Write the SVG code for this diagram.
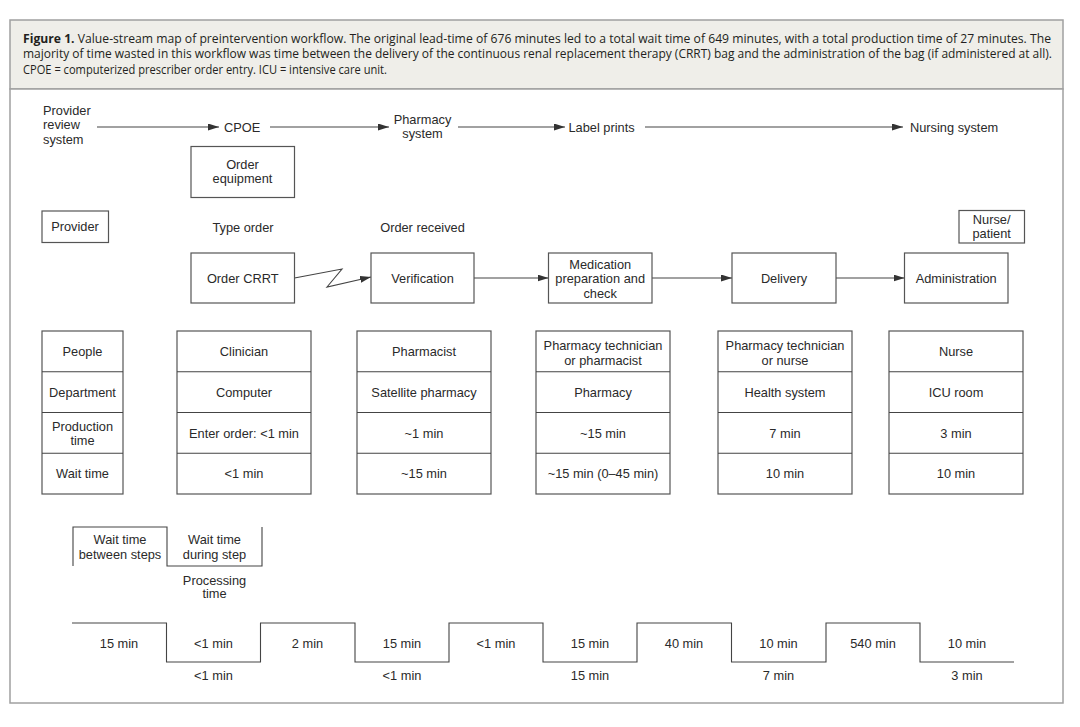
<svg xmlns="http://www.w3.org/2000/svg" width="1080" height="727" viewBox="0 0 1080 727">
<style>
.t{font-family:"Liberation Sans",Arial,sans-serif;font-size:12.8px;fill:#2a2a2a;text-anchor:middle}
.l{text-anchor:start}
.cap{font-family:"Open Sans","Noto Sans",sans-serif;font-size:12px;fill:#231f20}
.box{fill:#fff;stroke:#555;stroke-width:1.2}
.ln{fill:none;stroke:#444;stroke-width:1.1}
.frame{stroke:#a0a0a0;stroke-width:1.5}
</style>
<defs>
<marker id="ah" markerUnits="userSpaceOnUse" markerWidth="11" markerHeight="7" refX="11" refY="3.5" orient="auto">
<path d="M0,0 L11,3.5 L0,7 z" fill="#333"/>
</marker>
</defs>
<rect width="1080" height="727" fill="#fff"/>
<g id="caption">
<rect class="frame" x="10" y="20" width="1053" height="69" fill="#efeee9"/>
<text class="cap" x="23" y="42.5" textLength="1028" lengthAdjust="spacingAndGlyphs"><tspan font-weight="bold">Figure 1.</tspan> Value-stream map of preintervention workflow. The original lead-time of 676 minutes led to a total wait time of 649 minutes, with a total production time of 27 minutes. The</text>
<text class="cap" x="23" y="58" textLength="1029" lengthAdjust="spacingAndGlyphs">majority of time wasted in this workflow was time between the delivery of the continuous renal replacement therapy (CRRT) bag and the administration of the bag (if administered at all).</text>
<text class="cap" x="23" y="73.5" textLength="364" lengthAdjust="spacingAndGlyphs">CPOE = computerized prescriber order entry. ICU = intensive care unit.</text>
</g>
<rect class="frame" x="10" y="89" width="1053" height="614" fill="#fff"/>

<g id="connectors">
<line class="ln" x1="97" y1="127" x2="219" y2="127" marker-end="url(#ah)"/>
<line class="ln" x1="270" y1="127" x2="389" y2="127" marker-end="url(#ah)"/>
<line class="ln" x1="458" y1="127" x2="565" y2="127" marker-end="url(#ah)"/>
<line class="ln" x1="645" y1="127" x2="903" y2="127" marker-end="url(#ah)"/>
<path class="ln" d="M294.5,278 L342,269 L327,287 L371,277" marker-end="url(#ah)"/>
<line class="ln" x1="474" y1="278" x2="548.5" y2="278" marker-end="url(#ah)"/>
<line class="ln" x1="652" y1="278" x2="732" y2="278" marker-end="url(#ah)"/>
<line class="ln" x1="836" y1="278" x2="904.5" y2="278" marker-end="url(#ah)"/>
</g>

<g id="provider-review-system">
<text class="t l" x="43" y="114.5">Provider</text>
<text class="t l" x="43" y="129">review</text>
<text class="t l" x="43" y="143.5">system</text>
</g>
<g id="cpoe"><text class="t l" x="224" y="131.5">CPOE</text></g>
<g id="pharmacy-system">
<text class="t" x="422.5" y="123.5">Pharmacy</text>
<text class="t" x="422.5" y="138">system</text>
</g>
<g id="label-prints"><text class="t l" x="568.5" y="131.5">Label prints</text></g>
<g id="nursing-system"><text class="t l" x="910" y="131.5">Nursing system</text></g>

<g id="order-equipment">
<rect class="box" x="191" y="146.5" width="103.5" height="51"/>
<text class="t" x="242.5" y="168.5">Order</text>
<text class="t" x="242.5" y="182.5">equipment</text>
</g>
<g id="provider">
<rect class="box" x="42" y="211" width="66.5" height="31.5"/>
<text class="t" x="75" y="231">Provider</text>
</g>
<g id="type-order"><text class="t" x="243" y="231.5">Type order</text></g>
<g id="order-received"><text class="t" x="422.5" y="231.5">Order received</text></g>
<g id="nurse-patient">
<rect class="box" x="959" y="210.5" width="65.5" height="32.5"/>
<text class="t" x="991.7" y="224">Nurse/</text>
<text class="t" x="991.7" y="237.5">patient</text>
</g>

<g id="order-crrt">
<rect class="box" x="191" y="253" width="103.5" height="50"/>
<text class="t" x="242.7" y="282.5">Order CRRT</text>
</g>
<g id="verification">
<rect class="box" x="371" y="253" width="103" height="50"/>
<text class="t" x="422.5" y="282.5">Verification</text>
</g>
<g id="medication-preparation">
<rect class="box" x="548.5" y="253" width="103.5" height="50"/>
<text class="t" x="600.2" y="268.5">Medication</text>
<text class="t" x="600.2" y="283">preparation and</text>
<text class="t" x="600.2" y="297.5">check</text>
</g>
<g id="delivery">
<rect class="box" x="732" y="253" width="104" height="50"/>
<text class="t" x="784" y="282.5">Delivery</text>
</g>
<g id="administration">
<rect class="box" x="904.5" y="253" width="103.5" height="50"/>
<text class="t" x="956.2" y="282.5">Administration</text>
</g>

<g id="table-labels">
<rect class="box" x="42" y="331" width="81" height="163"/>
<path class="ln" d="M42,371.75H123M42,412.5H123M42,453.25H123"/>
<text class="t" x="82.5" y="356">People</text>
<text class="t" x="82.5" y="396.5">Department</text>
<text class="t" x="82.5" y="430.5">Production</text>
<text class="t" x="82.5" y="444.5">time</text>
<text class="t" x="82.5" y="478">Wait time</text>
</g>
<g id="table-clinician">
<rect class="box" x="177" y="331" width="134" height="163"/>
<path class="ln" d="M177,371.75H311M177,412.5H311M177,453.25H311"/>
<text class="t" x="244" y="356">Clinician</text>
<text class="t" x="244" y="396.5">Computer</text>
<text class="t" x="244" y="437.5">Enter order: &lt;1 min</text>
<text class="t" x="244" y="478">&lt;1 min</text>
</g>
<g id="table-pharmacist">
<rect class="box" x="357" y="331" width="134" height="163"/>
<path class="ln" d="M357,371.75H491M357,412.5H491M357,453.25H491"/>
<text class="t" x="424" y="356">Pharmacist</text>
<text class="t" x="424" y="396.5">Satellite pharmacy</text>
<text class="t" x="424" y="437.5">~1 min</text>
<text class="t" x="424" y="478">~15 min</text>
</g>
<g id="table-pharmacy-tech">
<rect class="box" x="536" y="331" width="134" height="163"/>
<path class="ln" d="M536,371.75H670M536,412.5H670M536,453.25H670"/>
<text class="t" x="603" y="349.5">Pharmacy technician</text>
<text class="t" x="603" y="364.5">or pharmacist</text>
<text class="t" x="603" y="396.5">Pharmacy</text>
<text class="t" x="603" y="437.5">~15 min</text>
<text class="t" x="603" y="478">~15 min (0–45 min)</text>
</g>
<g id="table-tech-nurse">
<rect class="box" x="718" y="331" width="134" height="163"/>
<path class="ln" d="M718,371.75H852M718,412.5H852M718,453.25H852"/>
<text class="t" x="785" y="349.5">Pharmacy technician</text>
<text class="t" x="785" y="364.5">or nurse</text>
<text class="t" x="785" y="396.5">Health system</text>
<text class="t" x="785" y="437.5">7 min</text>
<text class="t" x="785" y="478">10 min</text>
</g>
<g id="table-nurse">
<rect class="box" x="889" y="331" width="134" height="163"/>
<path class="ln" d="M889,371.75H1023M889,412.5H1023M889,453.25H1023"/>
<text class="t" x="956" y="356">Nurse</text>
<text class="t" x="956" y="396.5">ICU room</text>
<text class="t" x="956" y="437.5">3 min</text>
<text class="t" x="956" y="478">10 min</text>
</g>

<g id="legend">
<path class="ln" d="M73,566V527H167V566H262V527"/>
<text class="t" x="120" y="543.5">Wait time</text>
<text class="t" x="120" y="558.5">between steps</text>
<text class="t" x="214.5" y="543.5">Wait time</text>
<text class="t" x="214.5" y="558.5">during step</text>
<text class="t" x="214.5" y="584.5">Processing</text>
<text class="t" x="214.5" y="598">time</text>
</g>

<g id="timeline">
<path class="ln" d="M72,623H166.5V662H260.5V623H355V662H449V623H543V662H637V623H731.5V662H826V623H920V662H1014"/>
<text class="t" x="119" y="647.5">15 min</text>
<text class="t" x="213.5" y="647.5">&lt;1 min</text>
<text class="t" x="307.5" y="647.5">2 min</text>
<text class="t" x="402" y="647.5">15 min</text>
<text class="t" x="496" y="647.5">&lt;1 min</text>
<text class="t" x="590" y="647.5">15 min</text>
<text class="t" x="684" y="647.5">40 min</text>
<text class="t" x="778.5" y="647.5">10 min</text>
<text class="t" x="873" y="647.5">540 min</text>
<text class="t" x="967" y="647.5">10 min</text>
<text class="t" x="213.5" y="680">&lt;1 min</text>
<text class="t" x="402" y="680">&lt;1 min</text>
<text class="t" x="590" y="680">15 min</text>
<text class="t" x="778.5" y="680">7 min</text>
<text class="t" x="967" y="680">3 min</text>
</g>
</svg>
